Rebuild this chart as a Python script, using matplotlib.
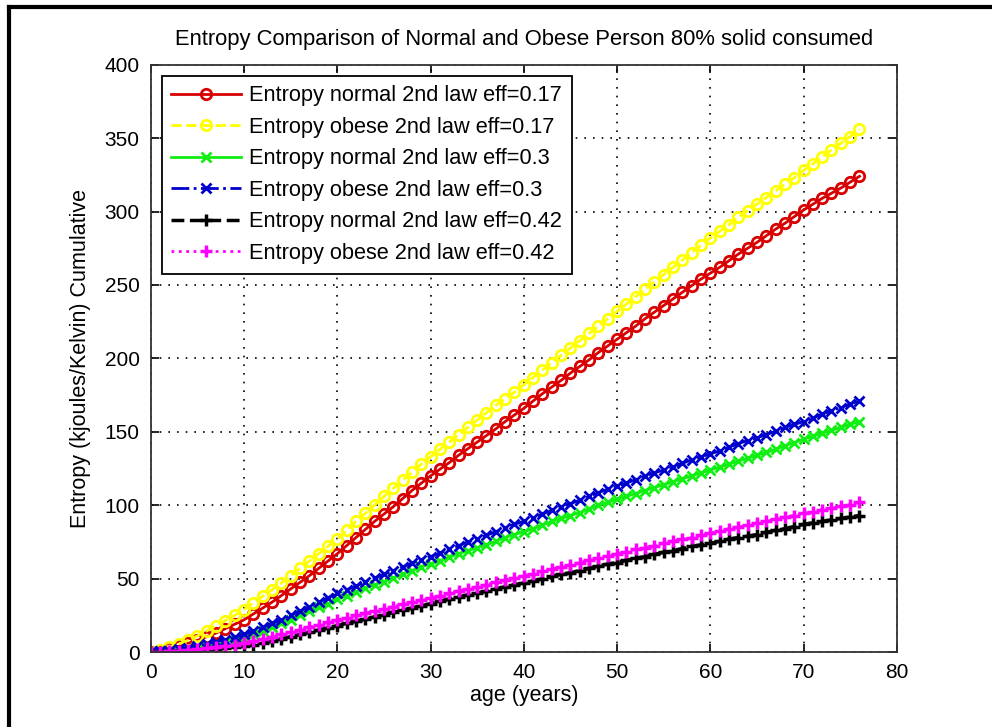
import matplotlib
matplotlib.use("Agg")
import matplotlib.pyplot as plt
from matplotlib.lines import Line2D
import numpy as np

# age in years, one sample per year
age = list(range(0, 77))

normal_017 = [0, 1, 2.5, 4, 6, 8, 10.5, 13, 16, 19, 22, 26, 30, 34, 38.5, 43, 47.5, 52, 57, 62,
              67, 72.5, 78, 83.5, 89, 94, 99, 104.5, 110, 115, 120, 124.5, 129, 134, 138.5, 143,
              147.5, 152, 157, 161.5, 166, 171, 176, 180.5, 185, 190, 194.5, 199, 204, 208.5, 213,
              217.5, 222, 227, 231.5, 236, 240.5, 245, 249.5, 254, 258, 262, 266.5, 271, 275, 279,
              283.5, 288, 292, 296.5, 301, 305, 309, 312.5, 316, 320, 324]
obese_017 = [0, 1.5, 3.5, 5.5, 8, 11, 14.5, 18, 21.5, 25, 29, 33.5, 38, 42.5, 47, 52, 57, 62, 67, 72,
             77, 83, 89, 94.5, 100, 106, 111.5, 117, 122.5, 128, 133, 138, 143, 148, 153, 158, 163,
             168, 172.5, 177, 182, 187, 192, 197, 202, 207, 212, 217, 222, 227, 232, 237, 242, 247,
             252, 257, 262, 267, 272, 277, 282, 286.5, 291, 296, 300.5, 305, 309.5, 314, 318.5, 323,
             328, 332.5, 337, 342, 346.5, 351, 356]
normal_03 = [0, 0.5, 1, 1.5, 2, 3, 4, 5.5, 7, 8.5, 10, 12, 14.5, 17, 19.5, 22, 25, 28, 30.5, 33,
             36, 38.5, 41, 43.5, 46, 48, 50.5, 53, 55.5, 58, 60, 62, 64.5, 67, 69, 71, 73, 75.5, 78,
             80, 82, 84, 86.5, 89, 91, 93, 95, 97.5, 100, 102, 104, 106, 108, 110, 112, 114, 116,
             118, 120, 122, 124, 126, 128, 130, 132, 134, 136, 138, 140.5, 142.5, 145, 147, 149,
             151, 153, 155, 157]
obese_03 = [0, 0.5, 1, 2, 3, 4, 5.5, 7, 8.5, 10, 12, 14.5, 17, 19.5, 22, 25, 28, 31, 34, 37, 40,
            42.5, 45, 48, 50.5, 53, 55.5, 58, 60.5, 63, 65, 67.5, 70, 72.5, 75, 77, 79.5, 82, 84.5,
            87, 89, 91.5, 94, 96.5, 99, 101, 103.5, 106, 108.5, 111, 113, 115, 117.5, 120, 122, 124,
            126, 128.5, 131, 133, 135, 137, 139.5, 142, 144, 146, 148, 150.5, 153, 155, 157, 159.5,
            162, 164.5, 166.5, 169, 171]
normal_042 = [0, 0.2, 0.4, 0.7, 1, 1.3, 1.8, 2.3, 2.9, 3.5, 4, 5, 6, 7.5, 9, 10.5, 12, 13.5, 15,
              16.5, 18, 19.5, 21, 22.5, 24, 25.5, 27, 28.5, 30, 31.5, 33, 34.5, 36, 37.5, 39, 40,
              41.5, 43, 44.5, 46, 47, 48.5, 50, 51.5, 53, 54, 55.5, 57, 58.5, 60, 61, 62.5, 64, 65,
              66.5, 68, 69, 70.5, 72, 73, 74, 75.5, 77, 78, 79, 80, 81.5, 83, 84, 85.5, 87, 88, 89,
              90, 91, 92, 93]
obese_042 = [0, 0.3, 0.6, 1, 1.5, 2, 2.7, 3.5, 4.3, 5, 6, 7.5, 9, 10.5, 12, 13.5, 15, 17, 18.5,
             20.5, 22, 23.5, 25, 26.5, 28, 29.5, 31, 32.5, 34, 35.5, 37, 38.5, 40, 41.5, 43, 44.5,
             46, 47.5, 49, 50.5, 52, 53.5, 55, 56.5, 58, 59.5, 61, 62.5, 64, 65.5, 67, 68.5, 70, 71,
             72.5, 74, 75.5, 77, 78, 79.5, 81, 82.5, 84, 85, 86.5, 88, 89, 90.5, 92, 93, 94.5, 95.5,
             97, 98, 99.5, 100.5, 102]

labels = ["Entropy normal 2nd law eff=0.17", "Entropy obese 2nd law eff=0.17",
          "Entropy normal 2nd law eff=0.3", "Entropy obese 2nd law eff=0.3",
          "Entropy normal 2nd law eff=0.42", "Entropy obese 2nd law eff=0.42"]

plt.rcParams['font.family'] = ['Liberation Sans', 'DejaVu Sans']

fig = plt.figure(figsize=(9.92, 7.27), dpi=100)
ax = fig.add_axes([0.152, 0.103, 0.752, 0.808])

ax.plot(age, normal_017, color="#d80000", linestyle="-", marker="o", markersize=7.5,
        markerfacecolor="none", markeredgewidth=2, linewidth=2, label=labels[0])
ax.plot(age, obese_017, color="#ffff00", linestyle="--", marker="o", markersize=7.5,
        markerfacecolor="none", markeredgewidth=2, linewidth=2, label=labels[1])
ax.plot(age, normal_03, color="#11ee11", linestyle="-", marker="x", markersize=7,
        markeredgewidth=2, linewidth=2, label=labels[2])
ax.plot(age, obese_03, color="#0000cc", linestyle="-.", marker="x", markersize=7,
        markeredgewidth=2, linewidth=2, label=labels[3])
ax.plot(age, normal_042, color="black", linestyle="--", marker="+", markersize=9,
        markeredgewidth=2.5, linewidth=2.5, label=labels[4])
ax.plot(age, obese_042, color="#ff00ff", linestyle=":", marker="+", markersize=9,
        markeredgewidth=2.5, linewidth=2, label=labels[5])

ax.set_xlim(0, 80)
ax.set_ylim(0, 400)
ax.set_xticks(np.arange(0, 81, 10))
ax.set_yticks(np.arange(0, 401, 50))
ax.grid(True, linestyle=(0, (1, 4.2)), color="black", linewidth=1.2)
ax.tick_params(direction="in", top=True, right=True, length=6, width=1.2,
               labelsize=15, pad=8)
for spine in ax.spines.values():
    spine.set_color("#333333")
    spine.set_linewidth(1.3)

ax.set_title("Entropy Comparison of Normal and Obese Person 80% solid consumed",
             fontsize=15.8, pad=14)
ax.set_xlabel("age (years)", fontsize=15.5, labelpad=2)
ax.set_ylabel("Entropy (kjoules/Kelvin) Cumulative", fontsize=15.5, labelpad=10)

leg = ax.legend(loc="upper left", fontsize=15.7, fancybox=False, framealpha=1,
                edgecolor="black", handlelength=3.2, borderaxespad=0.5,
                labelspacing=0.48, handletextpad=0.35, borderpad=0.45)
leg.get_frame().set_linewidth(1.3)

# frame lines along the top and left edge of the figure
fig.add_artist(Line2D([0.009, 1.0], [0.99, 0.99], color="black", linewidth=3,
                      transform=fig.transFigure))
fig.add_artist(Line2D([0.009, 0.009], [0.0, 0.99], color="black", linewidth=3,
                      transform=fig.transFigure))

fig.savefig("out.png", dpi=100)
